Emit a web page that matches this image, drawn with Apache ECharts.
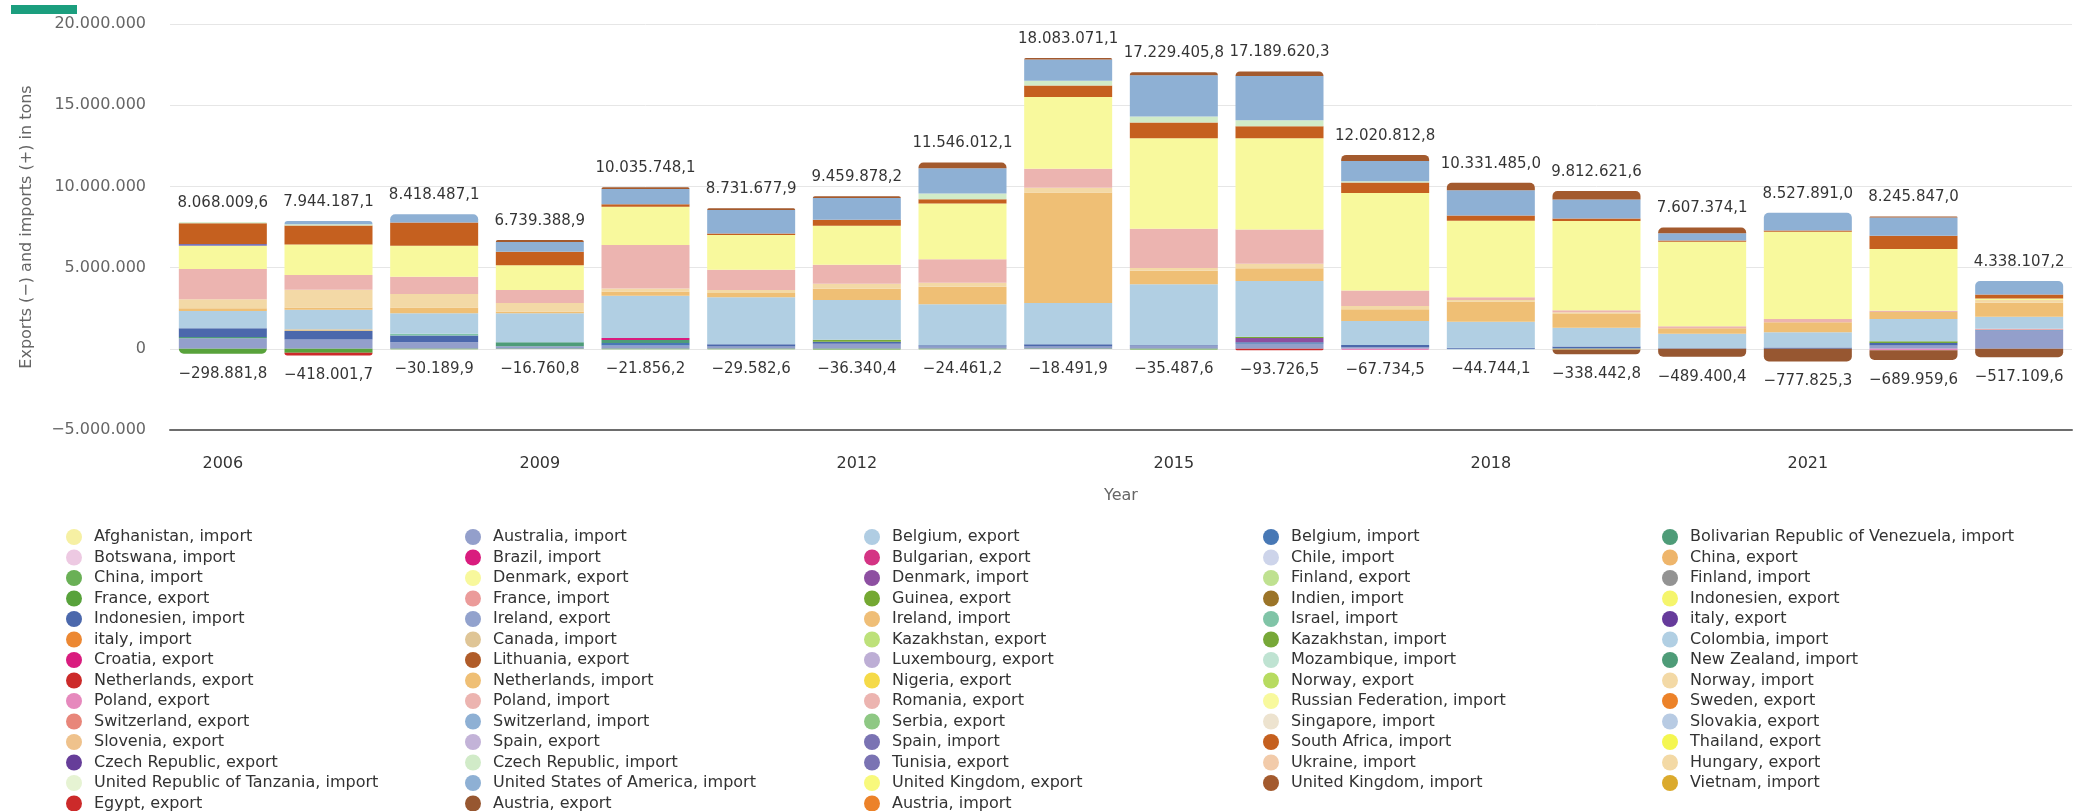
<!DOCTYPE html>
<html><head><meta charset="utf-8">
<script src="https://cdn.jsdelivr.net/npm/echarts@6/dist/echarts.min.js"></script>
<style>html,body{margin:0;padding:0;background:#fff}#c{width:2078px;height:811px}</style>
</head><body><div id="c"></div>
<script>
// ---------- categories & totals ----------
const years = ['2006','2007','2008','2009','2010','2011','2012','2013','2014','2015','2016','2017','2018','2019','2020','2021','2022','2023'];
const importTotals = [8068009.6,7944187.1,8418487.1,6739388.9,10035748.1,8731677.9,9459878.2,11546012.1,18083071.1,17229405.8,17189620.3,12020812.8,10331485.0,9812621.6,7607374.1,8527891.0,8245847.0,4338107.2];
const exportTotals = [-298881.8,-418001.7,-30189.9,-16760.8,-21856.2,-29582.6,-36340.4,-24461.2,-18491.9,-35487.6,-93726.5,-67734.5,-44744.1,-338442.8,-489400.4,-777825.3,-689959.6,-517109.6];
const yMin = -5000000, yMax = 20000000, yStep = 5000000;

// ---------- series values (tons), one array per legend entry ----------
const afghanistanImport = [];
const australiaImport = [650000,570000,410000,160000,200000,140000,310000,140000,140000,200000,310000,100000,0,0,0,0,200000,1120000];
const belgiumExport = [0,0,0,0,0,0,0,0,0,0,0,0,-44744,0,0,0,0,0];
const belgiumImport = [0,0,0,0,160000,0,0,0,0,0,100000,0,0,0,0,0,0,60000];
const venezuelaImport = [80000,0,0,250000,180000,0,0,0,0,0,0,0,0,0,0,0,0,0];
const botswanaImport = [];
const brazilImport = [0,0,0,0,120000,0,0,0,0,0,0,0,0,0,0,0,0,0];
const bulgariaExport = [];
const chileImport = [];
const chinaExport = [];
const chinaImport = [];
const denmarkExport = [];
const denmarkImport = [0,0,0,0,0,0,0,0,0,0,250000,0,0,0,0,0,0,0];
const finlandExport = [];
const finlandImport = [];
const franceExport = [-298882,-250000,-30190,-16761,-21856,-29583,-36340,-24461,-18492,-35488,0,0,0,0,0,0,0,0];
const franceImport = [0,0,0,0,0,0,0,0,0,0,0,0,0,0,0,0,0,60000];
const guineaExport = [];
const indienImport = [];
const indonesienExport = [];
const indonesienImport = [530000,530000,410000,0,0,140000,120000,80000,140000,40000,0,140000,60000,140000,40000,80000,160000,0];
const irelandExport = [];
const irelandImport = [];
const israelImport = [0,0,100000,0,0,0,0,0,0,0,0,0,0,0,0,0,0,0];
const italyExport = [];
const italyImport = [];
const canadaImport = [0,100000,0,0,0,0,0,0,0,0,0,0,0,0,0,0,0,0];
const kazakhstanExport = [];
const kazakhstanImport = [0,0,0,0,0,0,120000,0,0,0,80000,0,0,0,0,0,100000,0];
const colombiaImport = [1060000,1200000,1270000,1780000,2600000,2890000,2460000,2520000,2540000,3740000,3440000,1470000,1600000,1150000,880000,940000,1380000,740000];
const croatiaExport = [];
const lithuaniaExport = [];
const luxembourgExport = [];
const mozambiqueImport = [];
const newZealandImport = [];
const netherlandsExport = [0,-168002,0,0,0,0,0,0,0,0,-93727,0,0,0,0,0,0,0];
const netherlandsImport = [180000,140000,350000,100000,270000,270000,680000,1080000,6810000,820000,780000,720000,1250000,860000,350000,610000,430000,860000];
const nigeriaExport = [];
const norwayExport = [];
const norwayImport = [550000,1100000,840000,530000,180000,180000,310000,250000,290000,180000,270000,200000,100000,100000,0,0,0,160000];
const polandExport = [0,0,0,0,0,0,0,0,0,0,0,-67735,0,0,0,0,-90000,0];
const polandImport = [1860000,900000,1060000,800000,2680000,1250000,1170000,1450000,1170000,2410000,2110000,960000,160000,120000,120000,200000,80000,0];
const romaniaExport = [];
const russiaImport = [1430000,1880000,1900000,1530000,2350000,2130000,2410000,3420000,4420000,5570000,5630000,6000000,4710000,5500000,5200000,5380000,3790000,100000];
const swedenExport = [];
const switzerlandExport = [];
const switzerlandImport = [];
const serbiaExport = [];
const singaporeImport = [];
const slovakiaExport = [];
const sloveniaExport = [];
const spainExport = [];
const spainImport = [120000,0,0,0,0,0,0,0,0,0,0,0,0,0,0,0,0,0];
const southAfricaImport = [1270000,1170000,1430000,820000,160000,100000,370000,270000,700000,980000,740000,650000,330000,160000,80000,80000,820000,250000];
const thailandExport = [];
const czechExport = [];
const czechImport = [60000,80000,0,0,0,0,0,350000,290000,370000,370000,80000,0,0,0,0,0,0];
const tunisiaExport = [];
const ukraineImport = [];
const hungaryExport = [];
const tanzaniaImport = [];
const usaImport = [0,200000,510000,610000,940000,1450000,1330000,1560000,1310000,2540000,2720000,1250000,1560000,1170000,450000,1080000,1130000,820000];
const ukExport = [0,0,0,0,0,0,0,0,0,0,0,0,0,-50000,0,0,0,0];
const ukImport = [0,0,0,120000,100000,100000,120000,350000,100000,180000,270000,370000,450000,510000,350000,0,60000,0];
const vietnamImport = [];
const egyptExport = [];
const austriaExport = [0,0,0,0,0,0,0,0,0,0,0,0,0,-288443,-489400,-777825,-599960,-517110];
const austriaImport = [];

const seriesNames = ['Afghanistan, import','Australia, import','Belgium, export','Belgium, import','Bolivarian Republic of Venezuela, import',
'Botswana, import','Brazil, import','Bulgarian, export','Chile, import','China, export',
'China, import','Denmark, export','Denmark, import','Finland, export','Finland, import',
'France, export','France, import','Guinea, export','Indien, import','Indonesien, export',
'Indonesien, import','Ireland, export','Ireland, import','Israel, import','italy, export',
'italy, import','Canada, import','Kazakhstan, export','Kazakhstan, import','Colombia, import',
'Croatia, export','Lithuania, export','Luxembourg, export','Mozambique, import','New Zealand, import',
'Netherlands, export','Netherlands, import','Nigeria, export','Norway, export','Norway, import',
'Poland, export','Poland, import','Romania, export','Russian Federation, import','Sweden, export',
'Switzerland, export','Switzerland, import','Serbia, export','Singapore, import','Slovakia, export',
'Slovenia, export','Spain, export','Spain, import','South Africa, import','Thailand, export',
'Czech Republic, export','Czech Republic, import','Tunisia, export','Ukraine, import','Hungary, export',
'United Republic of Tanzania, import','United States of America, import','United Kingdom, export','United Kingdom, import','Vietnam, import',
'Egypt, export','Austria, export','Austria, import'];
const seriesData = [afghanistanImport,australiaImport,belgiumExport,belgiumImport,venezuelaImport,
botswanaImport,brazilImport,bulgariaExport,chileImport,chinaExport,
chinaImport,denmarkExport,denmarkImport,finlandExport,finlandImport,
franceExport,franceImport,guineaExport,indienImport,indonesienExport,
indonesienImport,irelandExport,irelandImport,israelImport,italyExport,
italyImport,canadaImport,kazakhstanExport,kazakhstanImport,colombiaImport,
croatiaExport,lithuaniaExport,luxembourgExport,mozambiqueImport,newZealandImport,
netherlandsExport,netherlandsImport,nigeriaExport,norwayExport,norwayImport,
polandExport,polandImport,romaniaExport,russiaImport,swedenExport,
switzerlandExport,switzerlandImport,serbiaExport,singaporeImport,slovakiaExport,
sloveniaExport,spainExport,spainImport,southAfricaImport,thailandExport,
czechExport,czechImport,tunisiaExport,ukraineImport,hungaryExport,
tanzaniaImport,usaImport,ukExport,ukImport,vietnamImport,
egyptExport,austriaExport,austriaImport];

// ---------- styles ----------
const palette = ['#f6f0a3','#939fcb','#b0cde3','#4878b5','#4e9c78',
'#edc9e2','#d91c7e','#d43484','#cdd4ea','#eeb56b',
'#6ab056','#f8f89c','#8d4fa1','#bfe190','#939393',
'#58a23b','#eb9b9a','#74a832','#9b7428','#f5f56c',
'#4b68ac','#92a2cd','#efbe77','#80c4a7','#663b9b',
'#ec8833','#dfc596','#bde17a','#77a838','#b1cfe3',
'#d91c7e','#b05c29','#bdaed5','#bfe3d2','#4e9c78',
'#cc2a2a','#efbf75','#f5da48','#b7db60','#f3d9a6',
'#e689bd','#ecb4b0','#ecb4b0','#f8f99d','#ec8229',
'#e8867a','#8eb0d4','#8ec884','#ede3cf','#b8cbe3',
'#efc28c','#c3b3d8','#7a73b3','#c5601f','#f4f650',
'#663d99','#d1ebc8','#7a73b3','#f2cbaa','#f3d9a5',
'#e6f3d3','#8eb0d4','#f8f97c','#a35a2e','#dbaa2d',
'#cc2a2a','#975731','#ec8229'];
const FONT = 'DejaVu Sans';

function fmt(v, d) {
  const neg = v < 0;
  const s = Math.abs(v).toFixed(d);
  let [ip, dp] = s.split('.');
  ip = ip.replace(/\B(?=(\d{3})+(?!\d))/g, '.');
  return (neg ? '\u2212' : '') + ip + (dp ? ',' + dp : '');
}

const val = (i, j) => (seriesData[i][j] === undefined ? 0 : seriesData[i][j]);
const posSum = years.map((_, j) => seriesData.reduce((s, a, i) => s + Math.max(0, val(i, j)), 0));
const negSum = years.map((_, j) => seriesData.reduce((s, a, i) => s + Math.min(0, val(i, j)), 0));
const topIdx = years.map((_, j) => { let t = -1; seriesData.forEach((a, i) => { if (val(i, j) > 0) t = i; }); return t; });
const botIdx = years.map((_, j) => { let t = -1; seriesData.forEach((a, i) => { if (val(i, j) < 0) t = i; }); return t; });
const R = 5;

const barSeries = seriesNames.map((name, i) => ({
  name, type: 'bar', stack: 'total', barWidth: 88,
  itemStyle: { color: palette[i] },
  emphasis: { disabled: true },
  data: seriesData[i].length ? years.map((_, j) => {
    const v = val(i, j);
    const item = { value: v };
    if (topIdx[j] === i) item.itemStyle = { borderRadius: [R, R, 0, 0] };
    if (botIdx[j] === i) item.itemStyle = { borderRadius: [0, 0, R, R] };
    return item;
  }) : []
}));

const labelStyle = { show: true, color: '#000', fontSize: 15, fontFamily: FONT };
const totalSeries = [
  { type: 'scatter', name: '_imp', data: posSum, symbolSize: 1, silent: true, z: 10,
    itemStyle: { color: 'rgba(0,0,0,0)' },
    label: Object.assign({ position: 'top', distance: 11, formatter: p => fmt(importTotals[p.dataIndex], 1) }, labelStyle) },
  { type: 'scatter', name: '_exp', data: negSum, symbolSize: 1, silent: true, z: 10,
    itemStyle: { color: 'rgba(0,0,0,0)' },
    label: Object.assign({ position: 'bottom', distance: 12, formatter: p => fmt(exportTotals[p.dataIndex], 1) }, labelStyle) }
];

const chart = echarts.init(document.getElementById('c'));
chart.setOption({
  animation: false,
  backgroundColor: '#fff',
  textStyle: { fontFamily: FONT },
  graphic: [{ type: 'rect', left: 11, top: 5, shape: { width: 66, height: 9 }, style: { fill: '#1b9e7e' } }],
  grid: { left: 170, right: 6, top: 24, bottom: 381 },
  xAxis: {
    type: 'category', data: years,
    axisLine: { onZero: false, lineStyle: { color: '#6d6d6d', width: 2 } },
    axisTick: { show: false },
    axisLabel: { interval: 2, color: '#333', fontSize: 16, fontFamily: FONT, margin: 26 },
    name: 'Year', nameLocation: 'middle', nameGap: 58,
    nameTextStyle: { color: '#666', fontSize: 16, fontFamily: FONT }
  },
  yAxis: {
    type: 'value', min: yMin, max: yMax, interval: yStep,
    axisLine: { show: false }, axisTick: { show: false },
    axisLabel: { color: '#666', fontSize: 16, fontFamily: FONT, margin: 24, formatter: v => fmt(v, 0) },
    splitLine: { lineStyle: { color: '#e6e6e6', width: 1 } },
    name: 'Exports (\u2212) and imports (+) in tons', nameLocation: 'middle', nameGap: 135,
    nameTextStyle: { color: '#666', fontSize: 16, fontFamily: FONT }
  },
  legend: {
    data: seriesNames, left: 61, top: 524, width: 2010,
    orient: 'horizontal', icon: 'circle', itemWidth: 16, itemHeight: 16, itemGap: 4.5,
    selectedMode: false,
    textStyle: { fontSize: 16, color: '#333', fontFamily: FONT, width: 366.5, lineHeight: 16, padding: [0, 0, 0, 7], overflow: 'none' }
  },
  series: barSeries.concat(totalSeries)
});
</script>
</body></html>
